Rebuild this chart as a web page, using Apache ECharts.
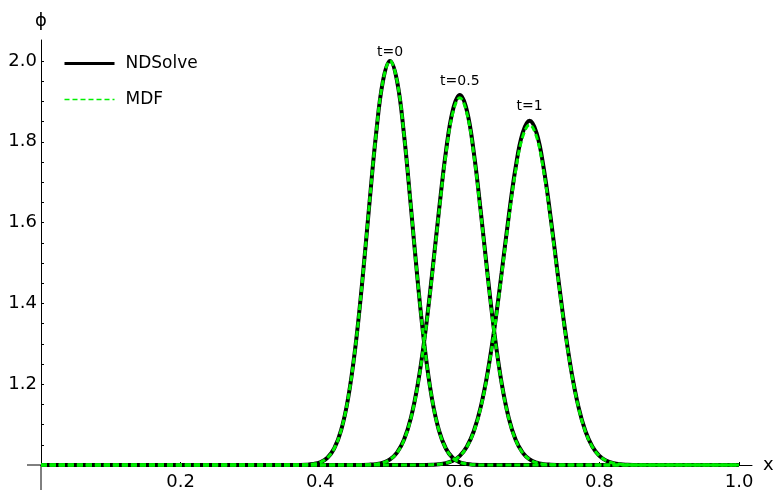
<!DOCTYPE html>
<html>
<head>
<meta charset="utf-8">
<script src="https://cdn.jsdelivr.net/npm/echarts@6/dist/echarts.min.js"></script>
<style>
  html, body { margin: 0; padding: 0; background: #fff; }
  #chart { width: 777px; height: 490px; }
</style>
</head>
<body>
<div id="chart"></div>
<script>
// sample positions along x (shared by every curve)
var xs = [0,
  0.35, 0.36, 0.37, 0.38, 0.39, 0.40, 0.41, 0.42, 0.43, 0.44,
  0.45, 0.46, 0.47, 0.48, 0.49, 0.50, 0.51, 0.52, 0.53, 0.54,
  0.55, 0.56, 0.57, 0.58, 0.59, 0.60, 0.61, 0.62, 0.63, 0.64,
  0.65, 0.66, 0.67, 0.68, 0.69, 0.70, 0.71, 0.72, 0.73, 0.74,
  0.75, 0.76, 0.77, 0.78, 0.79, 0.80, 0.81, 0.82, 0.83, 0.84,
  0.85, 0.86,
  1.0];

// NDSolve, phi(x)
var nd_t0 = [1,
  1, 1.0001, 1.0002, 1.0007, 1.0024, 1.0067, 1.0174, 1.0408, 1.0863, 1.1653,
  1.2865, 1.4493, 1.6376, 1.8187, 1.9512, 2.0, 1.9512, 1.8187, 1.6376, 1.4493,
  1.2865, 1.1653, 1.0863, 1.0408, 1.0174, 1.0067, 1.0024, 1.0007, 1.0002, 1.0001,
  1, 1, 1, 1, 1, 1, 1, 1, 1, 1,
  1, 1, 1, 1, 1, 1, 1, 1, 1, 1,
  1, 1,
  1];
var nd_t05 = [1,
  1, 1, 1, 1, 1, 1, 1, 1, 1, 1,
  1, 1.0002, 1.0008, 1.0022, 1.0057, 1.0137, 1.0305, 1.0623, 1.1170, 1.2020,
  1.3205, 1.4678, 1.6276, 1.7744, 1.8783, 1.916, 1.8783, 1.7744, 1.6276, 1.4678,
  1.3205, 1.2020, 1.1170, 1.0623, 1.0305, 1.0137, 1.0057, 1.0022, 1.0008, 1.0002,
  1, 1, 1, 1, 1, 1, 1, 1, 1, 1,
  1, 1,
  1];
var nd_t1 = [1,
  1, 1, 1, 1, 1, 1, 1, 1, 1, 1,
  1, 1, 1, 1, 1, 1, 1, 1, 1, 1,
  1.0002, 1.0007, 1.0018, 1.0046, 1.0105, 1.0226, 1.0450, 1.0835, 1.1439, 1.2306,
  1.3438, 1.4767, 1.6145, 1.7369, 1.8217, 1.852, 1.8217, 1.7369, 1.6145, 1.4767,
  1.3438, 1.2306, 1.1439, 1.0835, 1.0450, 1.0226, 1.0105, 1.0046, 1.0018, 1.0007,
  1.0002, 1,
  1];

// MDF
var mdf_t0 = [1,
  1, 1.0001, 1.0002, 1.0007, 1.0024, 1.0067, 1.0174, 1.0408, 1.0863, 1.1653,
  1.2865, 1.4493, 1.6376, 1.8187, 1.9512, 2.0, 1.9512, 1.8187, 1.6376, 1.4493,
  1.2865, 1.1653, 1.0863, 1.0408, 1.0174, 1.0067, 1.0024, 1.0007, 1.0002, 1.0001,
  1, 1, 1, 1, 1, 1, 1, 1, 1, 1,
  1, 1, 1, 1, 1, 1, 1, 1, 1, 1,
  1, 1,
  1];
var mdf_t05 = [1,
  1, 1, 1, 1, 1, 1, 1, 1, 1, 1,
  1, 1.0002, 1.0008, 1.0021, 1.0056, 1.0136, 1.0303, 1.0618, 1.1161, 1.2004,
  1.3181, 1.4642, 1.6228, 1.7685, 1.8716, 1.909, 1.8716, 1.7685, 1.6228, 1.4642,
  1.3181, 1.2004, 1.1161, 1.0618, 1.0303, 1.0136, 1.0056, 1.0021, 1.0008, 1.0002,
  1, 1, 1, 1, 1, 1, 1, 1, 1, 1,
  1, 1,
  1];
var mdf_t1 = [1,
  1, 1, 1, 1, 1, 1, 1, 1, 1, 1,
  1, 1, 1, 1, 1, 1, 1, 1, 1, 1,
  1.0002, 1.0007, 1.0018, 1.0045, 1.0104, 1.0223, 1.0445, 1.0825, 1.1422, 1.2279,
  1.3398, 1.4711, 1.6073, 1.7283, 1.8121, 1.842, 1.8121, 1.7283, 1.6073, 1.4711,
  1.3398, 1.2279, 1.1422, 1.0825, 1.0445, 1.0223, 1.0104, 1.0045, 1.0018, 1.0007,
  1.0002, 1,
  1];

var timeLabels = ['t=0', 't=0.5', 't=1'];
var xTicks = [0.2, 0.4, 0.6, 0.8, 1.0];
var yTicks = [1.2, 1.4, 1.6, 1.8, 2.0];
var yMinor = [1.05, 1.1, 1.15, 1.2, 1.25, 1.3, 1.35, 1.4, 1.45, 1.5,
  1.55, 1.6, 1.65, 1.7, 1.75, 1.8, 1.85, 1.9, 1.95, 2.0];

var FONT = 'DejaVu Sans';
var GREEN = '#00f000';

function pairs(ys) {
    return xs.map(function (x, i) { return [x, ys[i]]; });
}

function ndSeries(ys, label, dist) {
    return {
        name: 'NDSolve',
        type: 'line',
        data: pairs(ys),
        showSymbol: false,
        symbol: 'none',
        smooth: 0.4,
        clip: false,
        lineStyle: { color: '#000', width: 4 },
        itemStyle: { color: '#000' },
        markPoint: {
            symbol: 'circle',
            symbolSize: 0,
            data: [{ type: 'max', valueDim: 'y' }],
            label: {
                show: true,
                position: 'top',
                distance: dist,
                formatter: label,
                color: '#000',
                fontFamily: FONT,
                fontSize: 14
            }
        },
        animation: false
    };
}

function mdfSeries(ys) {
    return {
        name: 'MDF',
        type: 'line',
        data: pairs(ys),
        showSymbol: false,
        symbol: 'none',
        smooth: 0.4,
        clip: false,
        lineStyle: { color: GREEN, width: 3, type: [6, 3] },
        itemStyle: { color: GREEN },
        animation: false
    };
}

var myChart = echarts.init(document.getElementById('chart'));
var option = {
    animation: false,
    grid: { left: 41, right: 25, top: 40, bottom: 25, containLabel: false, outerBoundsMode: 'none' },
    legend: {
        data: [
            { name: 'NDSolve', lineStyle: { width: 3 } },
            { name: 'MDF', lineStyle: { width: 1.5, type: [5, 3] } }
        ],
        orient: 'vertical',
        left: 58,
        top: 50,
        itemWidth: 50,
        itemHeight: 14,
        itemGap: 19,
        itemStyle: { opacity: 0 },
        textStyle: { color: '#000', fontFamily: FONT, fontSize: 17, padding: [0, 0, 0, 6] }
    },
    xAxis: {
        type: 'value',
        min: 0,
        max: 1.0186,
        name: 'x',
        nameLocation: 'end',
        nameGap: 11,
        nameTextStyle: { color: '#000', fontFamily: FONT, fontSize: 18 },
        axisLine: { onZero: false, lineStyle: { color: '#000', width: 1 } },
        axisTick: { show: true, inside: true, length: 3, customValues: xTicks,
            lineStyle: { color: '#000' } },
        axisLabel: {
            customValues: xTicks,
            margin: 8,
            color: '#000',
            fontFamily: FONT,
            fontSize: 18,
            formatter: function (v) { return v.toFixed(1); }
        },
        splitLine: { show: false }
    },
    yAxis: {
        type: 'value',
        min: 1,
        max: 2.052,
        name: 'ϕ',
        nameLocation: 'end',
        nameGap: 10,
        nameTextStyle: { color: '#000', fontFamily: FONT, fontSize: 18 },
        axisLine: { show: true, onZero: false, lineStyle: { color: '#000', width: 1 } },
        axisTick: { show: true, inside: true, length: 3, customValues: yMinor,
            lineStyle: { color: '#000' } },
        axisLabel: {
            customValues: yTicks,
            margin: 4,
            color: '#000',
            fontFamily: FONT,
            fontSize: 18,
            formatter: function (v) { return v.toFixed(1); }
        },
        splitLine: { show: false }
    },
    series: [
        ndSeries(nd_t0, timeLabels[0], 2),
        ndSeries(nd_t05, timeLabels[1], 7),
        ndSeries(nd_t1, timeLabels[2], 7),
        mdfSeries(mdf_t0),
        mdfSeries(mdf_t05),
        mdfSeries(mdf_t1)
    ]
};
myChart.setOption(option);

// the axes cross at (0, 1); both lines run a little past the crossing
var o = myChart.convertToPixel({ gridIndex: 0 }, [0, 1]);
myChart.setOption({
    graphic: [
        { type: 'line', z: 1, shape: { x1: o[0], y1: o[1], x2: o[0], y2: 490 },
          style: { stroke: '#000', lineWidth: 1 } },
        { type: 'line', z: 1, shape: { x1: o[0] - 14, y1: o[1], x2: o[0], y2: o[1] },
          style: { stroke: '#000', lineWidth: 1 } }
    ]
});
</script>
</body>
</html>
